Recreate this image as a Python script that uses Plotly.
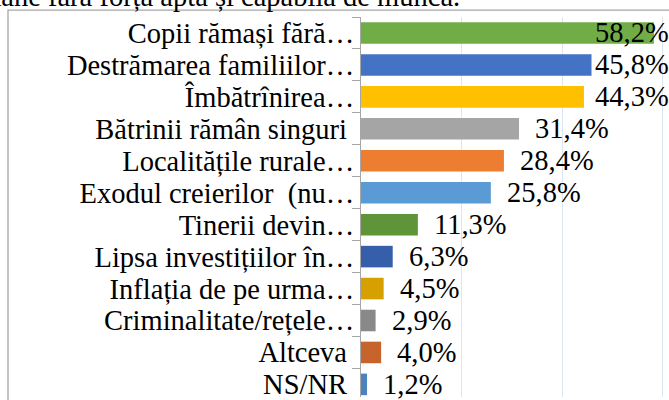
import plotly.graph_objects as go

categories = [
    "Copii rămași fără…",
    "Destrămarea familiilor…",
    "Îmbătrînirea…",
    "Bătrinii rămân singuri\u00a0",
    "Localitățile rurale…",
    "Exodul creierilor\u00a0 (nu…",
    "Tinerii devin…",
    "Lipsa investițiilor în…",
    "Inflația de pe urma…",
    "Criminalitate/rețele…",
    "Altceva\u00a0",
    "NS/NR\u00a0",
]
values = [58.2, 45.8, 44.3, 31.4, 28.4, 25.8, 11.3, 6.3, 4.5, 2.9, 4.0, 1.2]
value_labels = ["58,2%", "45,8%", "44,3%", "31,4%", "28,4%", "25,8%",
                "11,3%", "6,3%", "4,5%", "2,9%", "4,0%", "1,2%"]
colors = ["#70AD47", "#4472C4", "#FFC000", "#A5A5A5", "#ED7D31", "#5B9BD5",
          "#5E9539", "#355FAB", "#D6A100", "#898989", "#C6642B", "#4C83BA"]
title_text = "rămâne fără forța aptă și capabilă de muncă."

W, H = 669, 400
ml, mt = 361, 17
plot_w = W - ml
plot_h = H - mt
x_max = 61.2
px_per_unit = plot_w / x_max
n = len(categories)
pitch = 32.2
y_bottom = -0.5 + plot_h / pitch  # visible range in category units

font_family = "Liberation Serif, Times New Roman, serif"
FS = 28.5

fig = go.Figure(go.Bar(
    x=values, y=categories, orientation="h",
    marker=dict(color=colors, line=dict(width=0)),
    width=0.675,
    hoverinfo="skip",
))

label_gap = 17 / px_per_unit
label_cap = (596 - ml) / px_per_unit
annotations = []
for c, v, t in zip(categories, values, value_labels):
    annotations.append(dict(
        x=min(v + label_gap, label_cap), y=c, xref="x", yref="y",
        text=t, showarrow=False, xanchor="left", yanchor="middle",
        xshift=-3,
        font=dict(family=font_family, size=FS, color="#000000"),
    ))

# cut-off title text from the document above
annotations.append(dict(
    x=(462 - ml) / plot_w, y=1 + (mt - 8) / plot_h, xref="paper", yref="paper",
    text=title_text, showarrow=False, xanchor="right", yanchor="bottom",
    yshift=-6,
    font=dict(family=font_family, size=FS, color="#000000"),
))

fig.update_layout(
    width=W, height=H,
    margin=dict(l=ml, r=0, t=mt, b=0, pad=0),
    paper_bgcolor="white", plot_bgcolor="white",
    showlegend=False,
    annotations=annotations,
    shapes=[dict(
        type="rect", xref="paper", yref="paper",
        x0=(8 - ml) / plot_w, x1=(W + 20 - ml) / plot_w,
        y0=-0.2, y1=1 + (mt - 10) / plot_h,
        line=dict(color="#A6A6A6", width=1.3), fillcolor="rgba(0,0,0,0)",
        layer="below",
    )],
    xaxis=dict(
        range=[0, x_max], dtick=20, showticklabels=False,
        showgrid=True, gridcolor="#DCE6F2", gridwidth=1,
        zeroline=False, showline=False, ticks="",
    ),
    yaxis=dict(
        categoryorder="array", categoryarray=categories,
        tickmode="array", tickvals=categories, ticktext=categories,
        range=[y_bottom, -0.5],
        showline=True, linecolor="#A6A6A6", linewidth=1.3,
        ticks="outside", ticklen=8, tickcolor="#A6A6A6", tickwidth=1.3,
        tickson="boundaries", showgrid=False,
        tickfont=dict(family=font_family, size=FS, color="#000000"),
    ),
)

fig.write_html(
    "out.html",
    config={"displayModeBar": False},
    post_script="document.body.style.margin='0';document.body.style.overflow='hidden';",
)
